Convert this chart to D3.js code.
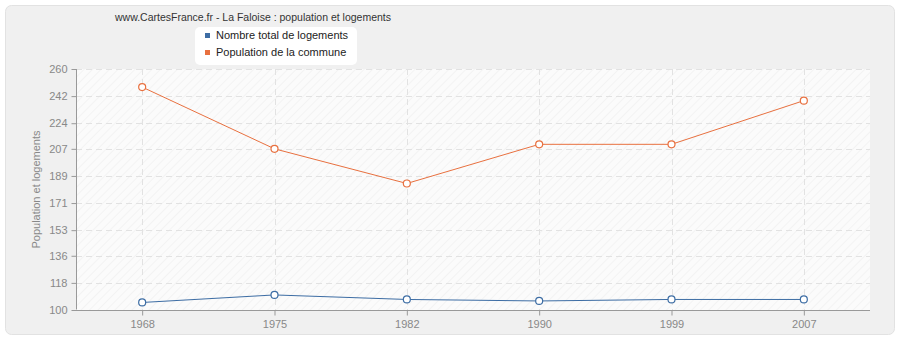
<!DOCTYPE html>
<html>
  <head>
    <meta charset="utf-8">
    <style>
      body { margin: 0; background: #fff; }
      text { font-family: "Liberation Sans", Arial, sans-serif; }
    </style>
    <title>La Faloise</title>
  </head>
  <body>
  <div id="viz-wrapper"></div>
  <script src="https://cdnjs.cloudflare.com/ajax/libs/d3/7.8.5/d3.min.js" charset="utf-8"></script>
  <script type="text/javascript">

    var years = ['1968', '1975', '1982', '1990', '1999', '2007'];
    var logements = [105, 110, 107, 106, 107, 107];
    var population = [248, 207, 184, 210, 210, 239];
    var yTicks = [100, 118, 136, 153, 171, 189, 207, 224, 242, 260];
    var seriesNames = ['Nombre total de logements', 'Population de la commune'];
    var colors = ['#3d6da4', '#e8703f'];

    var width = 900, height = 340;
    var plotLeft = 76, plotRight = 870, plotTop = 69, plotBottom = 310;

    var svg = d3.select('#viz-wrapper').append('svg')
                .attr('width', width)
                .attr('height', height);

    var defs = svg.append('defs');
    var pat = defs.append('pattern')
        .attr('id', 'hatch')
        .attr('patternUnits', 'userSpaceOnUse')
        .attr('width', 6).attr('height', 6)
        .attr('patternTransform', 'rotate(45)');
    pat.append('rect').attr('width', 6).attr('height', 6).attr('fill', '#fbfbfb');
    pat.append('line').attr('x1', 0).attr('y1', 0).attr('x2', 0).attr('y2', 6)
       .attr('stroke', '#f1f1f1').attr('stroke-width', 1.5);

    // outer panel
    svg.append('rect')
       .attr('x', 5.5).attr('y', 5.5)
       .attr('width', width - 11).attr('height', height - 11)
       .attr('rx', 6)
       .style('fill', '#f0f0f0')
       .style('stroke', '#e2e2e2');

    var x = d3.scalePoint().domain(years).range([plotLeft, plotRight]).padding(0.5);
    var y = d3.scaleLinear().domain([100, 260]).range([plotBottom, plotTop]);

    svg.append('rect')
       .attr('x', plotLeft).attr('y', plotTop)
       .attr('width', plotRight - plotLeft).attr('height', plotBottom - plotTop)
       .style('fill', 'url(#hatch)');

    // grid
    svg.append('g').selectAll('line')
       .data(yTicks.slice(1)).enter().append('line')
       .attr('x1', plotLeft).attr('x2', plotRight)
       .attr('y1', function(d) { return Math.round(y(d)) + 0.5; })
       .attr('y2', function(d) { return Math.round(y(d)) + 0.5; })
       .style('stroke', '#e2e2e2').style('stroke-dasharray', '6,4');
    svg.append('g').selectAll('line')
       .data(years).enter().append('line')
       .attr('x1', function(d) { return Math.round(x(d)) + 0.5; })
       .attr('x2', function(d) { return Math.round(x(d)) + 0.5; })
       .attr('y1', plotTop).attr('y2', plotBottom)
       .style('stroke', '#e2e2e2').style('stroke-dasharray', '6,4');

    // axes
    var yAxis = svg.append('g')
       .attr('transform', 'translate(' + (plotLeft + 0.5) + ',0)')
       .call(d3.axisLeft(y).tickValues(yTicks).tickSize(5).tickPadding(4).tickFormat(d3.format('d')));
    var xAxis = svg.append('g')
       .attr('transform', 'translate(0,' + (plotBottom + 0.5) + ')')
       .call(d3.axisBottom(x).tickSize(5).tickPadding(5));
    [xAxis, yAxis].forEach(function(a) {
      a.select('.domain').style('stroke', '#999');
      a.selectAll('.tick line').style('stroke', '#999');
      a.selectAll('.tick text').style('fill', '#888').style('font-size', '11px')
       .style('font-family', '"Liberation Sans", Arial, sans-serif');
    });
    xAxis.select('.domain').attr('d', 'M' + plotLeft + ',0H' + plotRight);
    yAxis.select('.domain').attr('d', 'M0,' + (plotBottom - 0.5) + 'V' + plotTop);

    svg.append('text')
       .attr('transform', 'translate(40,' + ((plotTop + plotBottom) / 2) + ') rotate(-90)')
       .attr('text-anchor', 'middle')
       .style('font-size', '11px').style('fill', '#888')
       .text('Population et logements');

    // lines
    var line = d3.line()
       .x(function(d, i) { return x(years[i]); })
       .y(function(d) { return y(d); });
    [logements, population].forEach(function(s, k) {
      svg.append('path').datum(s)
         .attr('d', line)
         .style('fill', 'none').style('stroke', colors[k]).style('stroke-width', 1);
      svg.append('g').selectAll('circle')
         .data(s).enter().append('circle')
         .attr('cx', function(d, i) { return x(years[i]); })
         .attr('cy', function(d) { return y(d); })
         .attr('r', 3.5)
         .style('fill', '#fff').style('stroke', colors[k]).style('stroke-width', 1.2);
    });

    // title
    svg.append('text')
       .attr('x', 253).attr('y', 21)
       .attr('text-anchor', 'middle')
       .style('font-size', '10.5px').style('fill', '#333')
       .text('www.CartesFrance.fr - La Faloise : population et logements');

    // legend
    var lg = svg.append('g');
    lg.append('rect')
      .attr('x', 195).attr('y', 27).attr('width', 162).attr('height', 38)
      .attr('rx', 5)
      .style('fill', '#fff');
    seriesNames.forEach(function(n, k) {
      lg.append('rect')
        .attr('x', 205).attr('y', 33 + k * 17)
        .attr('width', 5).attr('height', 5)
        .style('fill', colors[k]);
      lg.append('text')
        .attr('x', 216).attr('y', 39 + k * 17)
        .style('font-size', '11px').style('fill', '#222')
        .text(n);
    });
  </script>
  </body>
</html>
